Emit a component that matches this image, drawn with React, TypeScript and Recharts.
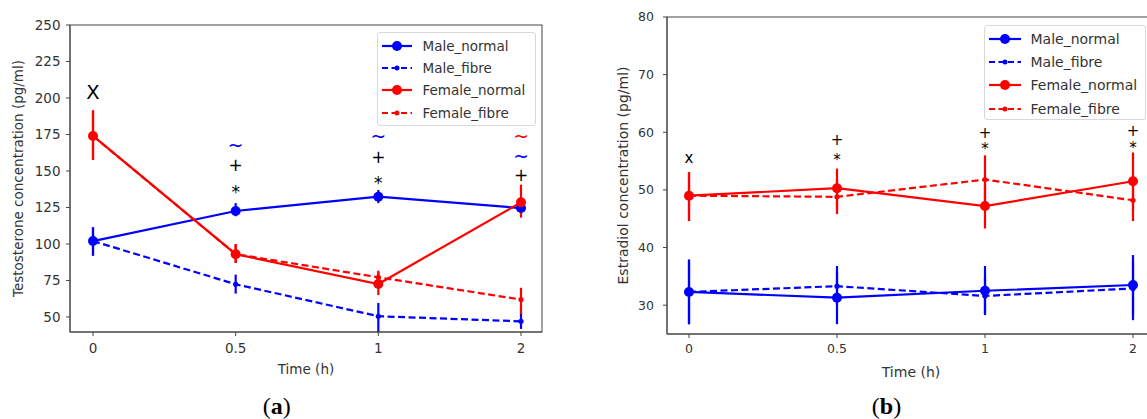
import React from 'react';
import { LineChart, Line, XAxis, YAxis, ErrorBar, ReferenceDot, Legend } from 'recharts';

// ---------- data ----------
const timeLabels = ['0', '0.5', '1', '2'];

// (a) Testosterone (pg/ml)
const testoMaleNormal = [102, 122.6, 132.4, 124.6];
const testoMaleNormalRange = [[92, 111.4], [119, 128], [128, 137], [120.5, 129]];
const testoMaleFibre = [102, 72.4, 50.5, 47];
const testoMaleFibreRange = [[92, 111.4], [66, 79], [39.5, 59.6], [41.8, 53]];
const testoFemaleNormal = [174, 93, 72.6, 128.5];
const testoFemaleNormalRange = [[157.5, 191.5], [87, 100], [65, 80.6], [118, 140.6]];
const testoFemaleFibre = [174, 93, 77.2, 61.9];
const testoFemaleFibreRange = [[157.5, 191.5], [87, 100], [72, 81.7], [52, 70]];
const testoTicks = [50, 75, 100, 125, 150, 175, 200, 225, 250];

// (b) Estradiol (pg/ml)
const estMaleNormal = [32.3, 31.3, 32.5, 33.5];
const estMaleNormalRange = [[26.7, 37.9], [26.7, 35.8], [28.3, 36.8], [28.3, 38.7]];
const estMaleFibre = [32.3, 33.3, 31.6, 32.9];
const estMaleFibreRange = [[26.7, 37.9], [30, 36.8], [28.5, 34.7], [27.4, 37.5]];
const estFemaleNormal = [49, 50.3, 47.2, 51.5];
const estFemaleNormalRange = [[44.6, 53.1], [46.5, 53.7], [43.3, 51], [46.5, 56.5]];
const estFemaleFibre = [49, 48.8, 51.8, 48.2];
const estFemaleFibreRange = [[44.6, 53.1], [45.8, 51.8], [47.5, 56], [44.6, 52]];
const estTicks = [30, 40, 50, 60, 70, 80];

// significance marks (time, value, symbol, colour)
const testoMarks = [
  { t: '0', v: 204, text: 'X', color: '#000' },
  { t: '0.5', v: 167.5, text: '~', color: '#0000ff' },
  { t: '0.5', v: 153.8, text: '+', color: '#000' },
  { t: '0.5', v: 138.5, text: '*', color: '#000' },
  { t: '1', v: 173.3, text: '~', color: '#0000ff' },
  { t: '1', v: 159.8, text: '+', color: '#000' },
  { t: '1', v: 144, text: '*', color: '#000' },
  { t: '2', v: 173.3, text: '~', color: '#ff0000' },
  { t: '2', v: 159.8, text: '~', color: '#0000ff' },
  { t: '2', v: 147, text: '+', color: '#000' },
];
const estMarks = [
  { t: '0', v: 55.3, text: 'x', color: '#000' },
  { t: '0.5', v: 58.6, text: '+', color: '#000' },
  { t: '0.5', v: 55.7, text: '*', color: '#000' },
  { t: '1', v: 59.8, text: '+', color: '#000' },
  { t: '1', v: 57.6, text: '*', color: '#000' },
  { t: '2', v: 60.3, text: '+', color: '#000' },
  { t: '2', v: 57.8, text: '*', color: '#000' },
];

const seriesNames = ['Male_normal', 'Male_fibre', 'Female_normal', 'Female_fibre'];

// ---------- styles ----------
const BLUE = '#0000ff';
const RED = '#ff0000';
const FONT = "'DejaVu Sans', sans-serif";
const SERIF = "'Liberation Serif', 'Times New Roman', serif";
const TXT = '#333';
const SPINE = '#444';

type Series = { key: string; name: string; color: string; dashed: boolean; values: number[]; ranges: number[][] };

const testoSeries: Series[] = [
  { key: 'mn', name: seriesNames[0], color: BLUE, dashed: false, values: testoMaleNormal, ranges: testoMaleNormalRange },
  { key: 'mf', name: seriesNames[1], color: BLUE, dashed: true, values: testoMaleFibre, ranges: testoMaleFibreRange },
  { key: 'fn', name: seriesNames[2], color: RED, dashed: false, values: testoFemaleNormal, ranges: testoFemaleNormalRange },
  { key: 'ff', name: seriesNames[3], color: RED, dashed: true, values: testoFemaleFibre, ranges: testoFemaleFibreRange },
];
const estSeries: Series[] = [
  { key: 'mn', name: seriesNames[0], color: BLUE, dashed: false, values: estMaleNormal, ranges: estMaleNormalRange },
  { key: 'mf', name: seriesNames[1], color: BLUE, dashed: true, values: estMaleFibre, ranges: estMaleFibreRange },
  { key: 'fn', name: seriesNames[2], color: RED, dashed: false, values: estFemaleNormal, ranges: estFemaleNormalRange },
  { key: 'ff', name: seriesNames[3], color: RED, dashed: true, values: estFemaleFibre, ranges: estFemaleFibreRange },
];

function buildRows(series: Series[]) {
  return timeLabels.map((t, i) => {
    const row: any = { t };
    series.forEach((s) => {
      row[s.key] = s.values[i];
      row[s.key + '_err'] = [s.values[i] - s.ranges[i][0], s.ranges[i][1] - s.values[i]];
    });
    return row;
  });
}

const glyphShift: Record<string, string> = { '*': '0.22em', x: '-0.06em' };
const glyphScale: Record<string, number> = { X: 1.15, '~': 1.1 };

type PanelProps = {
  series: Series[];
  marks: { t: string; v: number; text: string; color: string }[];
  ticks: number[];
  domain: [number, number];
  yLabel: string;
  panelTag: string;
  width: number;
  margin: { top: number; right: number; left: number; bottom: number };
  yAxisWidth: number;
  xAxisHeight: number;
  xPad: { left: number; right: number };
  tickFont: number;
  labelFont: number;
  markFont: number;
  yTickMargin: number;
  xTickMargin: number;
  yLabelX: number;
  xLabelDy: number;
  tagDx: number;
  legendPos: { left: number; top: number };
  legendSize: { w: number; h: number; row: number; padTop: number; padLeft: number; sample: number; gap: number };
  legendFont: number;
  dotR: number;
};

function LegendBox({ series, p }: { series: Series[]; p: PanelProps }) {
  const L = p.legendSize;
  return (
    <div
      style={{
        boxSizing: 'border-box',
        width: L.w,
        height: L.h,
        background: '#fff',
        border: '1px solid #d9d9d9',
        borderRadius: 3,
        paddingTop: L.padTop,
        paddingLeft: L.padLeft,
        fontFamily: FONT,
        fontSize: p.legendFont,
        color: TXT,
      }}
    >
      {series.map((s) => (
        <div key={s.key} style={{ display: 'flex', alignItems: 'center', height: L.row, whiteSpace: 'nowrap' }}>
          <svg width={L.sample} height={12} style={{ marginRight: L.gap, flex: 'none' }}>
            <line
              x1={0}
              x2={L.sample}
              y1={6}
              y2={6}
              stroke={s.color}
              strokeWidth={2.2}
              strokeDasharray={s.dashed ? '6 3.5' : undefined}
            />
            <circle cx={L.sample / 2} cy={6} r={s.dashed ? 2.5 : p.dotR} fill={s.color} />
          </svg>
          <span>{s.name}</span>
        </div>
      ))}
    </div>
  );
}

function Panel(p: PanelProps) {
  const rows = buildRows(p.series);
  const height = 419;
  return (
    <LineChart width={p.width} height={height} data={rows} margin={p.margin}>
      <XAxis
        dataKey="t"
        type="category"
        padding={p.xPad}
        height={p.xAxisHeight}
        tickSize={4}
        tickMargin={p.xTickMargin}
        tick={{ fill: TXT, fontSize: p.tickFont, fontFamily: FONT }}
        tickLine={{ stroke: SPINE }}
        axisLine={{ stroke: SPINE }}
        label={{
          content: (lp: any) => {
            const vb = lp.viewBox;
            const cx = vb.x + vb.width / 2;
            return (
              <g>
                {/* plot frame (top and right spines) */}
                <rect
                  x={vb.x}
                  y={p.margin.top}
                  width={vb.width}
                  height={vb.y - p.margin.top}
                  fill="none"
                  stroke={SPINE}
                  strokeWidth={1}
                />
                <text
                  x={cx}
                  y={vb.y + p.xLabelDy}
                  textAnchor="middle"
                  dominantBaseline="central"
                  fontFamily={FONT}
                  fontSize={p.labelFont}
                  fill={TXT}
                >
                  Time (h)
                </text>
                <text
                  x={cx + p.tagDx}
                  y={405.7}
                  textAnchor="middle"
                  dominantBaseline="central"
                  fontFamily={SERIF}
                  fontSize={24}
                  fill="#000"
                >
                  (<tspan fontWeight="bold">{p.panelTag}</tspan>)
                </text>
              </g>
            );
          },
        }}
      />
      <YAxis
        type="number"
        domain={p.domain}
        allowDataOverflow
        ticks={p.ticks}
        width={p.yAxisWidth}
        tickSize={4}
        tickMargin={p.yTickMargin}
        tick={{ fill: TXT, fontSize: p.tickFont, fontFamily: FONT }}
        tickLine={{ stroke: SPINE }}
        axisLine={{ stroke: SPINE }}
        label={{
          content: (lp: any) => {
            const vb = lp.viewBox;
            const x = vb.x + p.yLabelX;
            const y = vb.y + vb.height / 2;
            return (
              <text
                x={x}
                y={y}
                transform={`rotate(-90, ${x}, ${y})`}
                textAnchor="middle"
                dominantBaseline="central"
                fontFamily={FONT}
                fontSize={p.labelFont}
                fill={TXT}
              >
                {p.yLabel}
              </text>
            );
          },
        }}
      />
      {p.series.map((s) => (
        <Line
          key={s.key}
          dataKey={s.key}
          name={s.name}
          stroke={s.color}
          strokeWidth={2.2}
          strokeDasharray={s.dashed ? '7 3.5' : undefined}
          dot={{ r: s.dashed ? 2.6 : p.dotR, fill: s.color, stroke: s.color, strokeWidth: 0 }}
          activeDot={false}
          isAnimationActive={false}
        >
          <ErrorBar dataKey={s.key + '_err'} width={0} stroke={s.color} strokeWidth={2.2} direction="y" isAnimationActive={false} />
        </Line>
      ))}
      {p.marks.map((m, i) => (
        <ReferenceDot
          key={'m' + i}
          x={m.t}
          y={m.v}
          r={0}
          ifOverflow="visible"
          shape={(sp: any) => (
            <text
              x={sp.cx}
              y={sp.cy}
              dy={glyphShift[m.text] ?? 0}
              textAnchor="middle"
              dominantBaseline="central"
              fontFamily={FONT}
              fontSize={p.markFont * (glyphScale[m.text] ?? 1)}
              fill={m.color}
            >
              {m.text}
            </text>
          )}
        />
      ))}
      <Legend
        layout="vertical"
        align="center"
        verticalAlign="middle"
        wrapperStyle={{ left: p.legendPos.left, top: p.legendPos.top, width: 'auto', height: 'auto' }}
        content={() => <LegendBox series={p.series} p={p} />}
      />
    </LineChart>
  );
}

export default function App() {
  const left: PanelProps = {
    series: testoSeries,
    marks: testoMarks,
    ticks: testoTicks,
    domain: [39.7, 250],
    yLabel: 'Testosterone concentration (pg/ml)',
    panelTag: 'a',
    width: 560,
    margin: { top: 25, right: 18, left: 0, bottom: 0 },
    yAxisWidth: 70,
    xAxisHeight: 87,
    xPad: { left: 23, right: 21 },
    tickFont: 13.5,
    labelFont: 13.5,
    markFont: 17,
    yTickMargin: 5.5,
    xTickMargin: 7,
    yLabelX: 18.4,
    xLabelDy: 37,
    tagDx: -29.3,
    legendPos: { left: 377, top: 32 },
    legendSize: { w: 159, h: 94, row: 22.2, padTop: 2, padLeft: 3.5, sample: 30, gap: 11 },
    legendFont: 13.5,
    dotR: 5,
  };
  const right: PanelProps = {
    series: estSeries,
    marks: estMarks,
    ticks: estTicks,
    domain: [25, 80],
    yLabel: 'Estradiol concentration (pg/ml)',
    panelTag: 'b',
    width: 600,
    margin: { top: 17, right: 25, left: 0, bottom: 0 },
    yAxisWidth: 87,
    xAxisHeight: 85,
    xPad: { left: 22, right: 22 },
    tickFont: 12.5,
    labelFont: 14,
    markFont: 15,
    yTickMargin: 9,
    xTickMargin: 6,
    yLabelX: 42.5,
    xLabelDy: 38,
    tagDx: -24.5,
    legendPos: { left: 404, top: 25 },
    legendSize: { w: 162, h: 95, row: 23.3, padTop: 1, padLeft: 3.5, sample: 32, gap: 10 },
    legendFont: 14,
    dotR: 5,
  };
  return (
    <div
      style={{
        position: 'absolute',
        left: 0,
        top: 0,
        width: 1147,
        height: 419,
        overflow: 'hidden',
        background: '#fff',
        fontFamily: FONT,
      }}
    >
      <div style={{ position: 'absolute', left: 0, top: 0 }}>
        <Panel {...left} />
      </div>
      <div style={{ position: 'absolute', left: 580, top: 0 }}>
        <Panel {...right} />
      </div>
    </div>
  );
}
